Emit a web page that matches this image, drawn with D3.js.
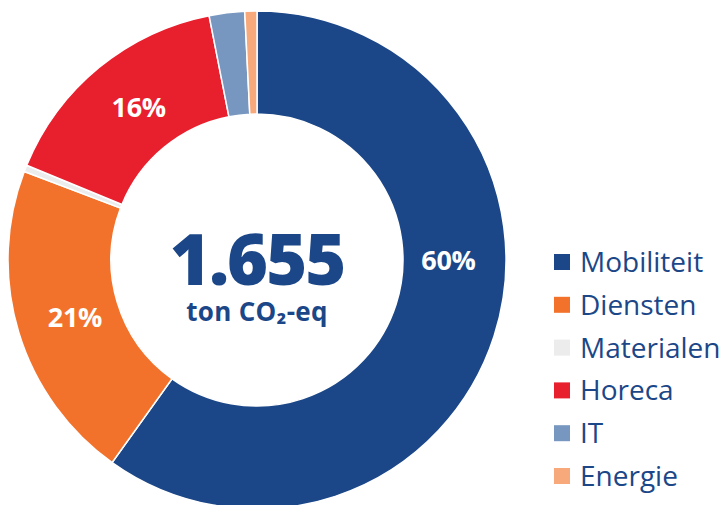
<!DOCTYPE html>
<html>
<head>
<meta charset="utf-8">
<script src="https://cdn.jsdelivr.net/npm/d3@7"></script>
<style>
html,body{margin:0;padding:0;background:#fff;}
svg{display:block;}
text{font-family:"Open Sans",sans-serif;}
</style>
</head>
<body>
<svg id="chart" width="724" height="505"></svg>
<script>
const categories = ["Mobiliteit","Diensten","Materialen","Horeca","IT","Energie"];
const values = [991, 346, 7, 260, 38, 13];
const colors = ["#1b4788","#f2722b","#ececec","#e81f2d","#7797c0","#f7a97b"];
const percentLabels = ["60%","21%","","16%","",""];
const totalLabel = "1.655";
const unitLabel = "ton CO\u2082-eq";

const svg = d3.select("#chart");
const cx = 257, cy = 260, outerR = 249, innerR = 146;
const g = svg.append("g").attr("transform", `translate(${cx},${cy})`);

const pie = d3.pie().sort(null).value(d => d.v);
const data = categories.map((c,i)=>({c, v: values[i], col: colors[i], lab: percentLabels[i]}));
const arcs = pie(data);
const arc = d3.arc().innerRadius(innerR).outerRadius(outerR);

g.selectAll("path.slice").data(arcs).enter().append("path")
  .attr("class","slice")
  .attr("d", arc)
  .attr("fill", d => d.data.col)
  .attr("stroke", "#fff")
  .attr("stroke-width", 1.5);

const midR = (innerR + outerR) / 2;
g.selectAll("text.pct").data(arcs.filter(d => d.data.lab)).enter().append("text")
  .attr("class","pct")
  .attr("transform", d => {
    let a = (d.startAngle + d.endAngle) / 2;
    if (d.index === 0) a = Math.PI / 2; // largest slice label sits at 3 o'clock
    return `translate(${Math.sin(a)*midR + (d.index===0?-6:7)},${-Math.cos(a)*midR})`;
  })
  .attr("text-anchor","middle")
  .attr("dy","0.36em")
  .attr("fill","#fff")
  .attr("font-size", 27)
  .attr("font-weight", 700)
  .attr("letter-spacing", -0.3)
  .text(d => d.data.lab);

// center text
g.append("text")
  .attr("x", 0).attr("y", 25)
  .attr("text-anchor","middle")
  .attr("fill","#1b4788")
  .attr("font-size", 70)
  .attr("font-weight", 800)
  .attr("letter-spacing", -2)
  .text(totalLabel);

g.append("text")
  .attr("x", 0).attr("y", 61)
  .attr("text-anchor","middle")
  .attr("fill","#1b4788")
  .attr("font-size", 26)
  .attr("font-weight", 700)
  .attr("letter-spacing", 0.3)
  .text(unitLabel);

// legend
const legend = svg.append("g");
const rowY = d3.scalePoint().domain(categories).range([262, 476]);
const items = legend.selectAll("g.item").data(data).enter().append("g")
  .attr("transform", d => `translate(554,${rowY(d.c)})`);
items.append("rect")
  .attr("x", 0).attr("y", -8).attr("width", 16).attr("height", 16)
  .attr("fill", d => d.col);
items.append("text")
  .attr("x", 26).attr("y", 0).attr("dy","0.36em")
  .attr("fill","#1b4788")
  .attr("font-size", 28)
  .attr("font-weight", 500)
  .text(d => d.c);
</script>
</body>
</html>
